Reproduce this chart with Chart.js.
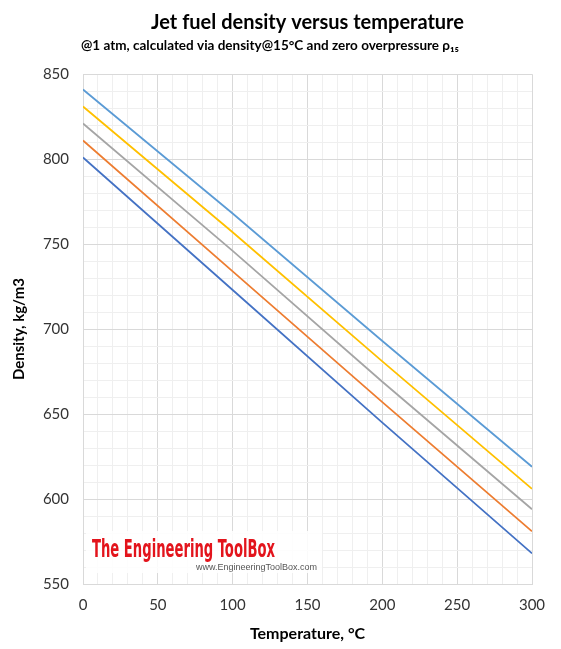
<!DOCTYPE html>
<html lang="en">
<head>
    <meta charset="UTF-8">
    <title>Jet fuel density versus temperature</title>
    <script src="https://cdn.jsdelivr.net/npm/chart.js"></script>
    <style>
        html, body { margin: 0; padding: 0; background: #fff; }
        #chartBox { width: 561px; height: 649px; }
    </style>
</head>
<body>
    <div id="chartBox">
        <canvas id="densityChart" width="561" height="649"></canvas>
    </div>
    <script>
        var temperatures = [0, 100, 200, 300];

        // density (kg/m3) for each jet fuel, by its density at 15°C
        var rho800 = [801, 723, 645, 568];
        var rho810 = [811, 734, 657, 581];
        var rho820 = [821, 746, 669, 594];
        var rho830 = [831, 757, 681, 606];
        var rho840 = [841, 768, 693, 619];

        var seriesNames = ['800', '810', '820', '830', '840'];
        var seriesValues = [rho800, rho810, rho820, rho830, rho840];
        var seriesColors = ['#4472C4', '#ED7D31', '#A5A5A5', '#FFC000', '#5B9BD5'];

        var fontFamily = 'Lato, "Open Sans", sans-serif';

        function toPoints(values) {
            return values.map(function (v, i) {
                return { x: temperatures[i], y: v };
            });
        }

        var datasets = seriesValues.map(function (values, i) {
            return {
                label: seriesNames[i],
                data: toPoints(values),
                borderColor: seriesColors[i],
                backgroundColor: seriesColors[i],
                borderWidth: 1.75,
                pointRadius: 0,
                fill: false,
                tension: 0
            };
        });

        // only every 5th gridline gets a label, the rest are minor lines
        function majorLabel(value) {
            return value % 50 === 0 ? value : '';
        }
        function gridColor(ctx) {
            return ctx.tick && ctx.tick.value % 50 === 0 ? '#d9d9d9' : '#efefef';
        }

        var watermark = {
            id: 'watermark',
            afterDatasetsDraw: function (chart) {
                var c = chart.ctx;
                c.save();
                c.fillStyle = 'rgba(255,255,255,0.85)';
                c.fillRect(86, 531, 236, 42);

                c.font = 'bold 25px "Liberation Sans Narrow", "DejaVu Sans Condensed", sans-serif';
                var w = c.measureText('The Engineering ToolBox').width;
                c.translate(92, 557);
                c.scale(183 / w, 1);
                c.fillStyle = '#e3141c';
                c.textBaseline = 'alphabetic';
                c.fillText('The Engineering ToolBox', 0, 0);
                c.restore();

                c.save();
                c.font = '9px "Liberation Sans", Arial, sans-serif';
                c.fillStyle = '#555';
                c.textBaseline = 'middle';
                c.textAlign = 'right';
                c.fillText('www.EngineeringToolBox.com', 317, 568);
                c.restore();
            }
        };

        var ctx = document.getElementById('densityChart').getContext('2d');
        var densityChart = new Chart(ctx, {
            type: 'line',
            data: { datasets: datasets },
            plugins: [watermark],
            options: {
                responsive: false,
                animation: false,
                layout: {
                    padding: { left: 8, right: 29, top: 0, bottom: 0 }
                },
                plugins: {
                    legend: { display: false },
                    tooltip: { enabled: false },
                    title: {
                        display: true,
                        fullSize: false,
                        text: 'Jet fuel density versus temperature',
                        color: '#000',
                        font: { family: fontFamily, size: 20, weight: 'bold' },
                        padding: { top: 11, bottom: 3 }
                    },
                    subtitle: {
                        display: true,
                        text: '@1 atm, calculated via density@15°C and zero overpressure ρ₁₅',
                        color: '#000',
                        font: { family: fontFamily, size: 13.5, weight: 'bold' },
                        padding: { top: 0, bottom: 20 }
                    }
                },
                scales: {
                    x: {
                        type: 'linear',
                        min: 0,
                        max: 300,
                        afterFit: function (scale) { scale.height = 65; },
                        ticks: {
                            stepSize: 10,
                            autoSkip: false,
                            maxRotation: 0,
                            padding: 12,
                            color: '#333',
                            font: { family: fontFamily, size: 15 },
                            callback: majorLabel
                        },
                        grid: { color: gridColor, drawTicks: false },
                        border: { color: '#d9d9d9' },
                        title: {
                            display: true,
                            text: 'Temperature, °C',
                            color: '#000',
                            font: { family: fontFamily, size: 16, weight: 'bold' },
                            padding: { top: 0, bottom: 6 }
                        }
                    },
                    y: {
                        min: 550,
                        max: 850,
                        afterFit: function (scale) { scale.width = 75; },
                        ticks: {
                            stepSize: 10,
                            autoSkip: false,
                            padding: 14,
                            color: '#333',
                            font: { family: fontFamily, size: 15 },
                            callback: majorLabel
                        },
                        grid: { color: gridColor, drawTicks: false },
                        border: { color: '#d9d9d9' },
                        title: {
                            display: true,
                            text: 'Density, kg/m3',
                            color: '#000',
                            font: { family: fontFamily, size: 15, weight: 'bold' },
                            padding: { top: 2, bottom: 0 }
                        }
                    }
                }
            }
        });
    </script>
</body>
</html>
